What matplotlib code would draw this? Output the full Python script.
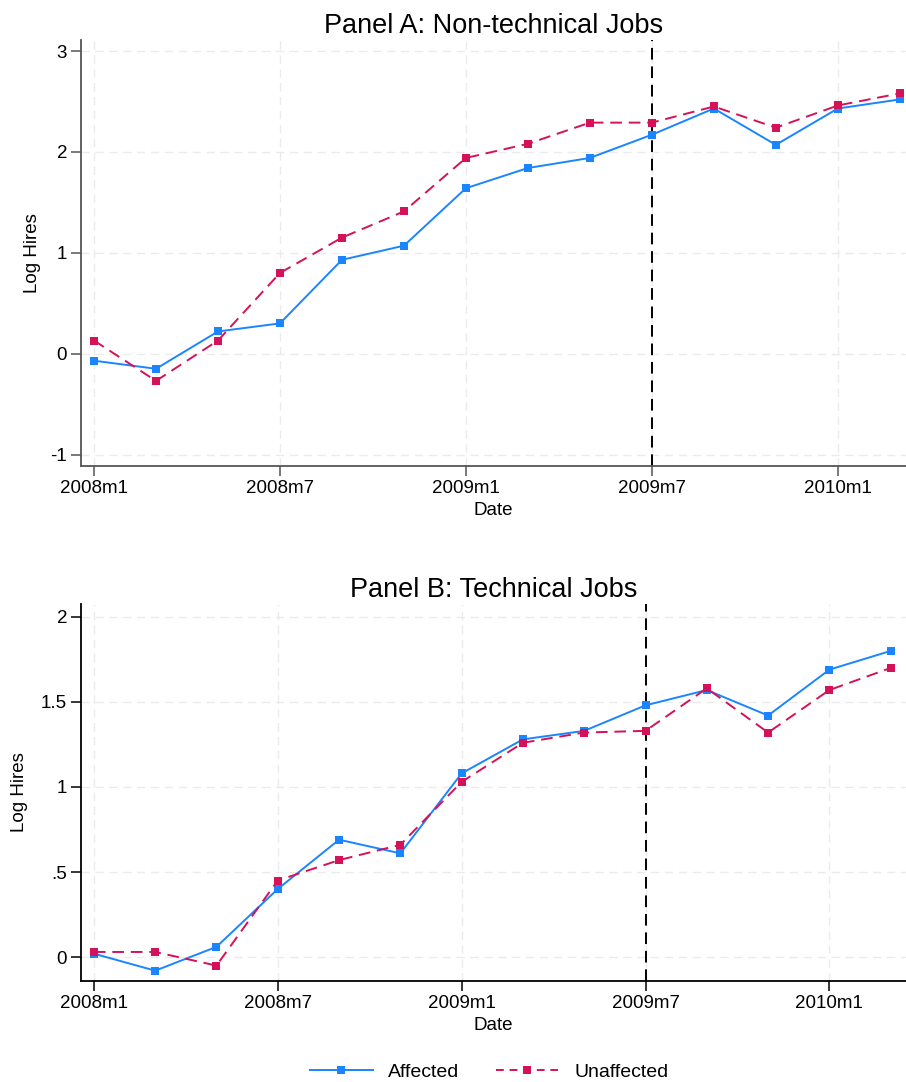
import matplotlib
matplotlib.use("Agg")
import matplotlib.pyplot as plt
from matplotlib.lines import Line2D

plt.rcParams['font.family'] = ['Liberation Sans', 'DejaVu Sans']

# month index: 0 = 2008m1
months = [0, 2, 4, 6, 8, 10, 12, 14, 16, 18, 20, 22, 24, 26]
xtick_pos = [0, 6, 12, 18, 24]
xtick_labels = ["2008m1", "2008m7", "2009m1", "2009m7", "2010m1"]
event_month = 18

a_affected = [-0.07, -0.15, 0.22, 0.30, 0.93, 1.07, 1.64, 1.84, 1.94, 2.17, 2.43, 2.07, 2.43, 2.52]
a_unaffected = [0.13, -0.27, 0.13, 0.80, 1.15, 1.41, 1.94, 2.08, 2.29, 2.29, 2.45, 2.24, 2.46, 2.58]

b_affected = [0.02, -0.08, 0.06, 0.40, 0.69, 0.61, 1.08, 1.28, 1.33, 1.48, 1.57, 1.42, 1.69, 1.80]
b_unaffected = [0.03, 0.03, -0.05, 0.45, 0.57, 0.66, 1.03, 1.26, 1.32, 1.33, 1.58, 1.32, 1.57, 1.70]

a_yticks = [-1, 0, 1, 2, 3]
a_ylabels = ["-1", "0", "1", "2", "3"]
b_yticks = [0, 0.5, 1, 1.5, 2]
b_ylabels = ["0", ".5", "1", "1.5", "2"]

BLUE = "#1A85FF"
RED = "#D41159"

fig = plt.figure(figsize=(9.06, 10.82), dpi=100)
axA = fig.add_axes([0.0894, 0.5693, 0.9106, 0.394])
axB = fig.add_axes([0.0894, 0.0933, 0.9106, 0.3485])

def style(ax, title, aff, unaff, yticks, ylabels, ylim, xlim, spinecol, ylpad):
    ax.grid(True, color="#ebebeb", linestyle=(0, (6, 4)), linewidth=1.0)
    ax.set_axisbelow(True)
    ax.axvline(event_month, color="black", linestyle=(0, (6, 3.5)), linewidth=1.4, zorder=2)
    ax.plot(months, aff, color=BLUE, linewidth=1.4, marker="s", markersize=5.5,
            markeredgewidth=0, zorder=3, label="Affected")
    ax.plot(months, unaff, color=RED, linewidth=1.4, linestyle=(0, (6, 3.5)), marker="s",
            markersize=5.5, markeredgewidth=0, zorder=3, label="Unaffected")
    ax.set_xticks(xtick_pos)
    ax.set_xticklabels(xtick_labels)
    ax.set_yticks(yticks)
    ax.set_yticklabels(ylabels)
    ax.set_xlim(*xlim)
    ax.set_ylim(*ylim)
    for s in ["top", "right"]:
        ax.spines[s].set_visible(False)
    for s in ["left", "bottom"]:
        ax.spines[s].set_color(spinecol)
        ax.spines[s].set_linewidth(1.3)
    ax.tick_params(axis="both", direction="out", length=7, width=1.1, color=spinecol,
                   labelsize=13.5, pad=3)
    ax.set_xlabel("Date", fontsize=13.5, labelpad=4)
    ax.set_ylabel("Log Hires", fontsize=13.5, labelpad=ylpad)
    ax.set_title(title, fontsize=19.5, pad=5)

style(axA, "Panel A: Non-technical Jobs", a_affected, a_unaffected, a_yticks, a_ylabels,
      (-1.114, 3.112), (-0.42, 26.2), "#555555", 7)
style(axB, "Panel B: Technical Jobs", b_affected, b_unaffected, b_yticks, b_ylabels,
      (-0.141, 2.076), (-0.42, 26.5), "#000000", 9)

handles = [
    Line2D([], [], color=BLUE, linewidth=1.4, marker="s", markersize=6, markeredgewidth=0),
    Line2D([], [], color=RED, linewidth=1.4, linestyle=(0, (4, 3)), marker="s", markersize=6,
           markeredgewidth=0),
]
fig.legend(handles, ["Affected", "Unaffected"], loc="lower center", ncol=2,
           bbox_to_anchor=(0.54, -0.015), frameon=False, fontsize=14,
           handlelength=3.2, columnspacing=1.9, handletextpad=0.8)

fig.savefig("out.png", dpi=100)
